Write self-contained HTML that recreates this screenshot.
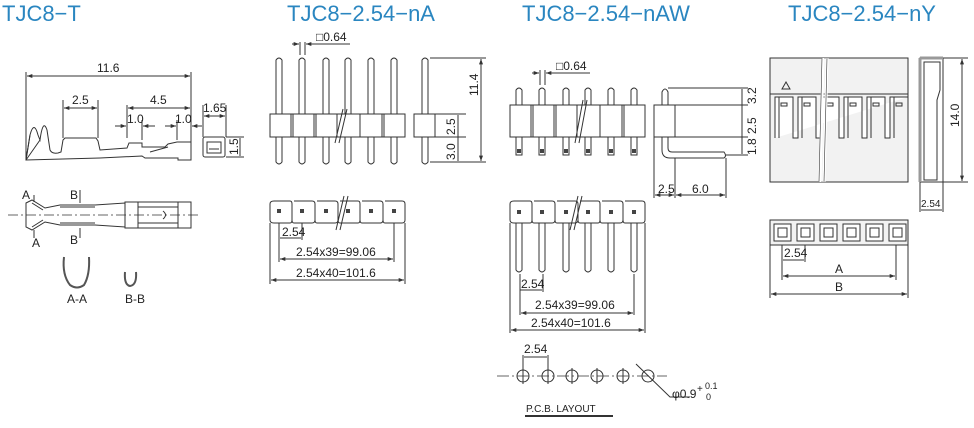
<!DOCTYPE html>
<html><head><meta charset="utf-8"><style>
html,body{margin:0;padding:0;background:#fff;}
svg{display:block;}
text{font-family:"Liberation Sans",Arial,sans-serif;fill:#222;}
.t{fill:#2a86c0;font-size:22px;}
.s{font-size:12px;}
</style></head><body>
<svg width="974" height="428" viewBox="0 0 974 428" xmlns="http://www.w3.org/2000/svg">
<defs>
<marker id="a" viewBox="0 0 8 6" refX="8" refY="3" markerWidth="6" markerHeight="4" orient="auto-start-reverse"><path d="M0,0L8,3L0,6z" fill="#333"/></marker>
</defs>
<g stroke="#333" stroke-width="1" fill="none">
<path d="M26,160 L26,72 M191,160 L191,72"/>
<line x1="27" y1="76" x2="190" y2="76" marker-start="url(#a)" marker-end="url(#a)"/>
<path d="M63,138 V100 M98,138 V100" /><line x1="64" y1="108" x2="97" y2="108" marker-start="url(#a)" marker-end="url(#a)"/>
<path d="M127,138 V105"/><line x1="128" y1="108" x2="190" y2="108" marker-start="url(#a)" marker-end="url(#a)"/>
<path d="M142,140 V120 M177,140 V120"/>
<line x1="115" y1="126" x2="126" y2="126" marker-end="url(#a)"/><line x1="143" y1="126" x2="155" y2="126" marker-start="url(#a)"/>
<line x1="165" y1="126" x2="176" y2="126" marker-end="url(#a)"/><line x1="192" y1="126" x2="202" y2="126" marker-start="url(#a)"/>
<path d="M26,160 L30,135 Q34,120 38,135 L40,140 Q43,118 47,130 L50,150 Q52,154 58,153 L61,152 L63,140 L65,138 L96,138 L98,141 L100,150 L127,148 L129,143 L142,143 L142,147 L165,147 L168,144 L177,142 L191,142 L191,160 L178,160 L178,158 L145,158 L142,156 L100,158 Z"/>
<path d="M150,152 L168,147"/><path d="M30,135 L26,160 L40,140"/>
<rect x="203" y="137" width="22" height="20" rx="2"/><rect x="207" y="142" width="14" height="11"/><line x1="209" y1="149" x2="219" y2="149"/>
<path d="M203,137 V105 M226,137 V105"/><line x1="204" y1="116" x2="225" y2="116" marker-start="url(#a)" marker-end="url(#a)"/>
<path d="M226,137 H244 M226,157 H244"/><line x1="240" y1="138" x2="240" y2="156"/>
<line x1="8" y1="215" x2="200" y2="215" stroke-dasharray="10,3,2,3" stroke-width="0.7"/>
<path d="M26,203 L32,200 L45,208 L60,205 L95,205 L125,203 L125,227 L95,225 L60,225 L45,222 L32,230 L26,227 Z"/>
<path d="M26,203 L26,227 M32,203 L43,210 M32,227 L43,220"/>
<path d="M60,207 H95 M60,223 H95"/>
<rect x="125" y="202" width="66" height="26"/><path d="M138,202 V228 M178,202 V228 M138,207 H178 M138,223 H178"/><path d="M163,211 Q168,215 163,219"/>
<path d="M34,195 V202 M34,230 V238 M80,190 V203 M80,228 V238"/>
<path d="M64,257 Q62,275 70,285 Q77,290 84,285 Q90,275 89,257" stroke-width="2" stroke="#555"/>
<path d="M125,272 Q124,285 130,286 Q137,285 136,272" stroke-width="2" stroke="#555"/>
</g>
<text class="t" x="2" y="21">TJC8−T</text>
<g class="s">
<text x="97" y="72">11.6</text><text x="72" y="104">2.5</text><text x="150" y="104">4.5</text>
<text x="127" y="123">1.0</text><text x="175" y="123">1.0</text><text x="203" y="112">1.65</text>
<text transform="translate(238,155) rotate(-90)">1.5</text>
<text x="22" y="199">A</text><text x="70" y="199">B</text><text x="32" y="247">A</text><text x="70" y="244">B</text>
<text x="67" y="303">A-A</text><text x="125" y="303">B-B</text>
</g>

<text class="t" x="287" y="21">TJC8−2.54−nA</text>
<g stroke="#333" stroke-width="1" fill="none">
<path d="M276,162 V60 Q279,56 282,60 V162 Q279,166 276,162 Z"/>
<path d="M299,162 V60 Q302,56 305,60 V162 Q302,166 299,162 Z"/>
<path d="M323,162 V60 Q326,56 329,60 V162 Q326,166 323,162 Z"/>
<path d="M345,162 V60 Q348,56 351,60 V162 Q348,166 345,162 Z"/>
<path d="M368,162 V60 Q371,56 374,60 V162 Q371,166 368,162 Z"/>
<path d="M391,162 V60 Q394,56 397,60 V162 Q394,166 391,162 Z"/>
<rect x="270" y="114" width="135" height="23" fill="#fff"/>
<path d="M291,114V137 M293,114V137 M314,114V137 M316,114V137 M337,114V137 M360,114V137 M382,114V137 M384,114V137"/>
<path d="M335,143 L343,109 M339,143 L347,109"/>
<path d="M422,162 V60 Q425,56 428,60 V162 Q425,166 422,162 Z"/>
<rect x="414" y="114" width="21" height="23" fill="#fff"/>
<path d="M430,58 H486 M430,162 H486 M435,114 H466 M435,137 H466"/>
<line x1="481" y1="59" x2="481" y2="161" marker-start="url(#a)" marker-end="url(#a)"/>
<line x1="458" y1="115" x2="458" y2="161"/>
<path d="M300,55 V42 M305,55 V42"/><line x1="292" y1="44" x2="299" y2="44" marker-end="url(#a)"/><line x1="306" y1="44" x2="350" y2="44" marker-start="url(#a)"/>
<path d="M274,201 H290 Q292,201 292,204 V220 Q292,223 290,223 H274 Q270,223 270,220 V204 Q270,201 274,201 Z"/>
<path d="M294,201 H312 Q315,201 315,204 V220 Q315,223 312,223 H294 Q292,223 292,220"/>
<path d="M317,201 H335 Q338,201 338,204 V220 Q338,223 335,223 H317 Q315,223 315,220"/>
<path d="M340,201 H358 Q360,201 360,204 V220 Q360,223 358,223 H340 Q338,223 338,220"/>
<path d="M362,201 H380 Q383,201 383,204 V220 Q383,223 380,223 H362 Q360,223 360,220"/>
<path d="M385,201 H402 Q405,201 405,204 V220 Q405,223 402,223 H385 Q383,223 383,220"/>
<path d="M336,230 L344,196 M340,230 L348,196"/>
<path d="M279,223 V262 M302,223 V240 M394,223 V262 M270,223 V284 M405,223 V284"/>
<line x1="280" y1="238" x2="301" y2="238"/>
<line x1="280" y1="259" x2="393" y2="259" marker-start="url(#a)" marker-end="url(#a)"/>
<line x1="271" y1="280" x2="404" y2="280" marker-start="url(#a)" marker-end="url(#a)"/>
</g>
<g fill="#444"><rect x="277" y="209" width="4" height="4"/><rect x="300" y="209" width="4" height="4"/><rect x="324" y="209" width="4" height="4"/><rect x="346" y="209" width="4" height="4"/><rect x="369" y="209" width="4" height="4"/><rect x="392" y="209" width="4" height="4"/></g>
<g class="s">
<text x="316" y="41">□0.64</text>
<text transform="translate(478,96) rotate(-90)">11.4</text>
<text transform="translate(455,135) rotate(-90)">2.5</text>
<text transform="translate(455,160) rotate(-90)">3.0</text>
<text x="282" y="236">2.54</text><text x="296" y="256">2.54x39=99.06</text><text x="296" y="277">2.54x40=101.6</text>
</g>

<text class="t" x="522" y="21">TJC8−2.54−nAW</text>
<g stroke="#333" stroke-width="1" fill="none">
<path d="M516,155 V90 Q519,86 522,90 V155 Z"/><path d="M539,155 V90 Q542,86 545,90 V155 Z"/><path d="M563,155 V90 Q566,86 569,90 V155 Z"/><path d="M585,155 V90 Q588,86 591,90 V155 Z"/><path d="M608,155 V90 Q611,86 614,90 V155 Z"/><path d="M631,155 V90 Q634,86 637,90 V155 Z"/>
<rect x="510" y="105" width="135" height="32" fill="#fff"/>
<path d="M531,105V137 M533,105V137 M554,105V137 M556,105V137 M577,105V137 M600,105V137 M622,105V137 M624,105V137"/>
<path d="M575,143 L583,100 M579,143 L587,100"/>
<path d="M662,105 V92 Q665,86 668,92 V105"/>
<rect x="654" y="105" width="21" height="32" fill="#fff"/>
<path d="M662,137 V150 Q662,158 670,158 H724 Q727,156 724,152 H672 Q668,152 668,148 V137"/>
<path d="M668,88 H748 M675,105 H748 M675,137 H748 M726,155 H748"/>
<line x1="742" y1="89" x2="742" y2="154"/>
<path d="M654,137 V198 M675,158 V198 M726,158 V198"/>
<line x1="655" y1="195" x2="674" y2="195" marker-start="url(#a)" marker-end="url(#a)"/>
<line x1="676" y1="195" x2="725" y2="195" marker-start="url(#a)" marker-end="url(#a)"/>
<path d="M540,85 V70 M545,85 V70"/><line x1="532" y1="73" x2="539" y2="73" marker-end="url(#a)"/><line x1="546" y1="73" x2="590" y2="73" marker-start="url(#a)"/>
<path d="M514,201 H530 Q532,201 532,204 V220 Q532,223 530,223 H514 Q510,223 510,220 V204 Q510,201 514,201 Z"/>
<path d="M534,201 H552 Q555,201 555,204 V220 Q555,223 552,223 H534 Q532,223 532,220"/>
<path d="M557,201 H575 Q578,201 578,204 V220 Q578,223 575,223 H557 Q555,223 555,220"/>
<path d="M580,201 H598 Q600,201 600,204 V220 Q600,223 598,223 H580 Q578,223 578,220"/>
<path d="M602,201 H620 Q623,201 623,204 V220 Q623,223 620,223 H602 Q600,223 600,220"/>
<path d="M625,201 H642 Q645,201 645,204 V220 Q645,223 642,223 H625 Q623,223 623,220"/>
<path d="M570,230 L578,196 M574,230 L582,196"/>
<path d="M516,223 V270 Q519,274 522,270 V223 M539,223 V270 Q542,274 545,270 V223 M563,223 V270 Q566,274 569,270 V223 M585,223 V270 Q588,274 591,270 V223 M608,223 V270 Q611,274 614,270 V223 M631,223 V270 Q634,274 637,270 V223"/>
<path d="M520,274 V315 M543,274 V292 M634,274 V315 M510,223 V333 M645,223 V333"/>
<line x1="520" y1="290" x2="542" y2="290"/>
<line x1="521" y1="313" x2="633" y2="313" marker-start="url(#a)" marker-end="url(#a)"/>
<line x1="511" y1="330" x2="644" y2="330" marker-start="url(#a)" marker-end="url(#a)"/>
<line x1="497" y1="376" x2="667" y2="376" stroke-dasharray="12,3,2,3" stroke-width="0.7"/>
<circle cx="523" cy="376" r="6"/><circle cx="548" cy="376" r="6"/><circle cx="572" cy="376" r="6"/><circle cx="597" cy="376" r="6"/><circle cx="623" cy="376" r="6"/><circle cx="648" cy="376" r="6"/>
<path d="M523,368V384 M548,368V384 M572,368V384 M597,368V384 M623,368V384"/>
<path d="M523,372 V355 M548,372 V355"/><line x1="524" y1="357" x2="547" y2="357"/>
<path d="M636,364 L670,397 H690"/>
<line x1="525" y1="416" x2="613" y2="416" stroke-width="2"/>
</g>
<g fill="#444"><rect x="517" y="210" width="4" height="4"/><rect x="540" y="210" width="4" height="4"/><rect x="564" y="210" width="4" height="4"/><rect x="586" y="210" width="4" height="4"/><rect x="609" y="210" width="4" height="4"/><rect x="632" y="210" width="4" height="4"/>
<rect x="517" y="149" width="4" height="4"/><rect x="540" y="149" width="4" height="4"/><rect x="564" y="149" width="4" height="4"/><rect x="586" y="149" width="4" height="4"/><rect x="609" y="149" width="4" height="4"/><rect x="632" y="149" width="4" height="4"/></g>
<g class="s">
<text x="556" y="70">□0.64</text>
<text transform="translate(756,104) rotate(-90)">3.2</text>
<text transform="translate(756,134) rotate(-90)">2.5</text>
<text transform="translate(756,155) rotate(-90)">1.8</text>
<text x="658" y="193">2.5</text><text x="692" y="193">6.0</text>
<text x="521" y="288">2.54</text><text x="535" y="309">2.54x39=99.06</text><text x="531" y="327">2.54x40=101.6</text>
<text x="524" y="353">2.54</text>
<text x="672" y="398">φ0.9</text><text x="697" y="392" font-size="10">+</text><text x="705" y="389" font-size="9">0.1</text><text x="706" y="400" font-size="9">0</text>
<text x="526" y="412" font-size="10">P.C.B. LAYOUT</text>
</g>

<text class="t" x="788" y="21">TJC8−2.54−nY</text>
<g stroke="#333" stroke-width="1" fill="none">
<rect x="770" y="58" width="138" height="124" fill="#f2f2f2"/>
<path d="M770,94 H908"/>
<path d="M775,138 V97 H793 V138 H798 V97 H816 V138 H821 V97 H839 V138 H844 V97 H862 V138 H867 V97 H885 V138 H890 V97 H908" fill="#fff"/>
<path d="M779,97V138 M802,97V138 M825,97V138 M848,97V138 M871,97V138 M894,97V138"/>
<path d="M781,106 h6 v-3 h-6z M804,106 h6 v-3 h-6z M827,106 h6 v-3 h-6z M850,106 h6 v-3 h-6z M873,106 h6 v-3 h-6z M896,106 h6 v-3 h-6z"/>
<path d="M823,58 L820,182 M827,58 L824,182" stroke="#fff" stroke-width="3"/>
<path d="M822,58 L819,182 M827,58 L824,182" stroke-width="0.6"/>
<path d="M782,89 L786,82 L790,89 Z"/>
<rect x="920" y="58" width="23" height="124" fill="#fff"/>
<path d="M924,62 H940 V90 L937,100 V180 H924 Z" fill="#fff"/>
<path d="M920,58 V182 M920,58 H943" stroke-width="3" stroke="#999"/>
<path d="M943,58 H968 M943,182 H968 M920,182 V212 M943,182 V212"/>
<line x1="962" y1="59" x2="962" y2="181" marker-start="url(#a)" marker-end="url(#a)"/>
<line x1="921" y1="210" x2="942" y2="210"/>
<rect x="770" y="220" width="138" height="25" fill="#f2f2f2"/>
<g fill="#fff"><rect x="774" y="224" width="17" height="17"/><rect x="797" y="224" width="17" height="17"/><rect x="820" y="224" width="17" height="17"/><rect x="843" y="224" width="17" height="17"/><rect x="866" y="224" width="17" height="17"/><rect x="889" y="224" width="17" height="17"/></g>
<g><rect x="778" y="228" width="9" height="9"/><rect x="801" y="228" width="9" height="9"/><rect x="824" y="228" width="9" height="9"/><rect x="847" y="228" width="9" height="9"/><rect x="870" y="228" width="9" height="9"/><rect x="893" y="228" width="9" height="9"/></g>
<path d="M782,245 V280 M805,245 V262 M896,245 V280 M770,245 V298 M908,245 V298"/>
<line x1="783" y1="260" x2="804" y2="260"/>
<line x1="783" y1="276" x2="895" y2="276" marker-start="url(#a)" marker-end="url(#a)"/>
<line x1="771" y1="294" x2="907" y2="294" marker-start="url(#a)" marker-end="url(#a)"/>
</g>
<g class="s">
<text transform="translate(959,127) rotate(-90)">14.0</text>
<text x="921" y="207" font-size="10">2.54</text>
<text x="784" y="257">2.54</text><text x="835" y="273">A</text><text x="835" y="291">B</text>
</g>
</svg>
</body></html>
